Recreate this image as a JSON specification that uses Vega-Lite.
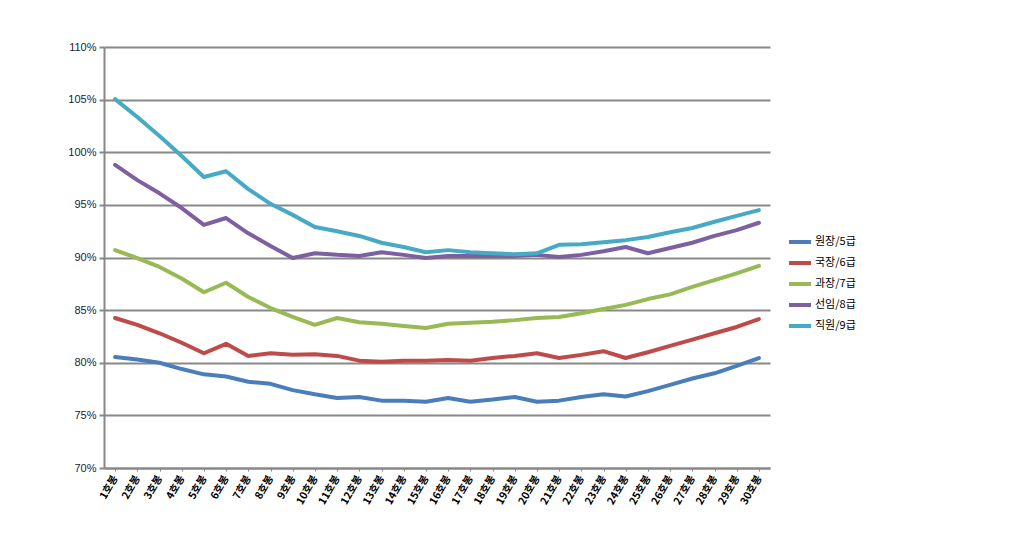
{
  "$schema": "https://vega.github.io/schema/vega-lite/v6.json",
  "width": 666,
  "height": 421,
  "autosize": {"type": "none"},
  "padding": {"left": 104, "top": 47, "right": 240, "bottom": 73},
  "background": "white",
  "config": {
    "view": {"stroke": null},
    "font": "Liberation Sans"
  },
  "data": {
    "values": [
      {"step": "1호봉", "o": 1, "g": "원장/5급", "v": 80.55},
      {"step": "2호봉", "o": 2, "g": "원장/5급", "v": 80.3},
      {"step": "3호봉", "o": 3, "g": "원장/5급", "v": 80.0},
      {"step": "4호봉", "o": 4, "g": "원장/5급", "v": 79.4},
      {"step": "5호봉", "o": 5, "g": "원장/5급", "v": 78.9},
      {"step": "6호봉", "o": 6, "g": "원장/5급", "v": 78.7},
      {"step": "7호봉", "o": 7, "g": "원장/5급", "v": 78.2},
      {"step": "8호봉", "o": 8, "g": "원장/5급", "v": 78.0},
      {"step": "9호봉", "o": 9, "g": "원장/5급", "v": 77.4},
      {"step": "10호봉", "o": 10, "g": "원장/5급", "v": 77.0},
      {"step": "11호봉", "o": 11, "g": "원장/5급", "v": 76.65},
      {"step": "12호봉", "o": 12, "g": "원장/5급", "v": 76.75},
      {"step": "13호봉", "o": 13, "g": "원장/5급", "v": 76.4},
      {"step": "14호봉", "o": 14, "g": "원장/5급", "v": 76.4},
      {"step": "15호봉", "o": 15, "g": "원장/5급", "v": 76.3},
      {"step": "16호봉", "o": 16, "g": "원장/5급", "v": 76.65},
      {"step": "17호봉", "o": 17, "g": "원장/5급", "v": 76.3},
      {"step": "18호봉", "o": 18, "g": "원장/5급", "v": 76.5},
      {"step": "19호봉", "o": 19, "g": "원장/5급", "v": 76.75},
      {"step": "20호봉", "o": 20, "g": "원장/5급", "v": 76.3},
      {"step": "21호봉", "o": 21, "g": "원장/5급", "v": 76.4},
      {"step": "22호봉", "o": 22, "g": "원장/5급", "v": 76.75},
      {"step": "23호봉", "o": 23, "g": "원장/5급", "v": 77.0},
      {"step": "24호봉", "o": 24, "g": "원장/5급", "v": 76.8},
      {"step": "25호봉", "o": 25, "g": "원장/5급", "v": 77.3},
      {"step": "26호봉", "o": 26, "g": "원장/5급", "v": 77.9},
      {"step": "27호봉", "o": 27, "g": "원장/5급", "v": 78.5},
      {"step": "28호봉", "o": 28, "g": "원장/5급", "v": 79.0},
      {"step": "29호봉", "o": 29, "g": "원장/5급", "v": 79.7},
      {"step": "30호봉", "o": 30, "g": "원장/5급", "v": 80.45},

      {"step": "1호봉", "o": 1, "g": "국장/6급", "v": 84.25},
      {"step": "2호봉", "o": 2, "g": "국장/6급", "v": 83.6},
      {"step": "3호봉", "o": 3, "g": "국장/6급", "v": 82.8},
      {"step": "4호봉", "o": 4, "g": "국장/6급", "v": 81.9},
      {"step": "5호봉", "o": 5, "g": "국장/6급", "v": 80.9},
      {"step": "6호봉", "o": 6, "g": "국장/6급", "v": 81.8},
      {"step": "7호봉", "o": 7, "g": "국장/6급", "v": 80.65},
      {"step": "8호봉", "o": 8, "g": "국장/6급", "v": 80.9},
      {"step": "9호봉", "o": 9, "g": "국장/6급", "v": 80.75},
      {"step": "10호봉", "o": 10, "g": "국장/6급", "v": 80.8},
      {"step": "11호봉", "o": 11, "g": "국장/6급", "v": 80.65},
      {"step": "12호봉", "o": 12, "g": "국장/6급", "v": 80.2},
      {"step": "13호봉", "o": 13, "g": "국장/6급", "v": 80.1},
      {"step": "14호봉", "o": 14, "g": "국장/6급", "v": 80.2},
      {"step": "15호봉", "o": 15, "g": "국장/6급", "v": 80.2},
      {"step": "16호봉", "o": 16, "g": "국장/6급", "v": 80.25},
      {"step": "17호봉", "o": 17, "g": "국장/6급", "v": 80.2},
      {"step": "18호봉", "o": 18, "g": "국장/6급", "v": 80.45},
      {"step": "19호봉", "o": 19, "g": "국장/6급", "v": 80.65},
      {"step": "20호봉", "o": 20, "g": "국장/6급", "v": 80.9},
      {"step": "21호봉", "o": 21, "g": "국장/6급", "v": 80.45},
      {"step": "22호봉", "o": 22, "g": "국장/6급", "v": 80.75},
      {"step": "23호봉", "o": 23, "g": "국장/6급", "v": 81.1},
      {"step": "24호봉", "o": 24, "g": "국장/6급", "v": 80.45},
      {"step": "25호봉", "o": 25, "g": "국장/6급", "v": 81.0},
      {"step": "26호봉", "o": 26, "g": "국장/6급", "v": 81.6},
      {"step": "27호봉", "o": 27, "g": "국장/6급", "v": 82.2},
      {"step": "28호봉", "o": 28, "g": "국장/6급", "v": 82.8},
      {"step": "29호봉", "o": 29, "g": "국장/6급", "v": 83.4},
      {"step": "30호봉", "o": 30, "g": "국장/6급", "v": 84.15},

      {"step": "1호봉", "o": 1, "g": "과장/7급", "v": 90.7},
      {"step": "2호봉", "o": 2, "g": "과장/7급", "v": 89.95},
      {"step": "3호봉", "o": 3, "g": "과장/7급", "v": 89.1},
      {"step": "4호봉", "o": 4, "g": "과장/7급", "v": 88.0},
      {"step": "5호봉", "o": 5, "g": "과장/7급", "v": 86.7},
      {"step": "6호봉", "o": 6, "g": "과장/7급", "v": 87.6},
      {"step": "7호봉", "o": 7, "g": "과장/7급", "v": 86.25},
      {"step": "8호봉", "o": 8, "g": "과장/7급", "v": 85.2},
      {"step": "9호봉", "o": 9, "g": "과장/7급", "v": 84.35},
      {"step": "10호봉", "o": 10, "g": "과장/7급", "v": 83.6},
      {"step": "11호봉", "o": 11, "g": "과장/7급", "v": 84.25},
      {"step": "12호봉", "o": 12, "g": "과장/7급", "v": 83.85},
      {"step": "13호봉", "o": 13, "g": "과장/7급", "v": 83.7},
      {"step": "14호봉", "o": 14, "g": "과장/7급", "v": 83.5},
      {"step": "15호봉", "o": 15, "g": "과장/7급", "v": 83.3},
      {"step": "16호봉", "o": 16, "g": "과장/7급", "v": 83.7},
      {"step": "17호봉", "o": 17, "g": "과장/7급", "v": 83.8},
      {"step": "18호봉", "o": 18, "g": "과장/7급", "v": 83.9},
      {"step": "19호봉", "o": 19, "g": "과장/7급", "v": 84.05},
      {"step": "20호봉", "o": 20, "g": "과장/7급", "v": 84.25},
      {"step": "21호봉", "o": 21, "g": "과장/7급", "v": 84.35},
      {"step": "22호봉", "o": 22, "g": "과장/7급", "v": 84.7},
      {"step": "23호봉", "o": 23, "g": "과장/7급", "v": 85.1},
      {"step": "24호봉", "o": 24, "g": "과장/7급", "v": 85.5},
      {"step": "25호봉", "o": 25, "g": "과장/7급", "v": 86.05},
      {"step": "26호봉", "o": 26, "g": "과장/7급", "v": 86.5},
      {"step": "27호봉", "o": 27, "g": "과장/7급", "v": 87.2},
      {"step": "28호봉", "o": 28, "g": "과장/7급", "v": 87.85},
      {"step": "29호봉", "o": 29, "g": "과장/7급", "v": 88.5},
      {"step": "30호봉", "o": 30, "g": "과장/7급", "v": 89.2},

      {"step": "1호봉", "o": 1, "g": "선임/8급", "v": 98.8},
      {"step": "2호봉", "o": 2, "g": "선임/8급", "v": 97.35},
      {"step": "3호봉", "o": 3, "g": "선임/8급", "v": 96.1},
      {"step": "4호봉", "o": 4, "g": "선임/8급", "v": 94.7},
      {"step": "5호봉", "o": 5, "g": "선임/8급", "v": 93.1},
      {"step": "6호봉", "o": 6, "g": "선임/8급", "v": 93.75},
      {"step": "7호봉", "o": 7, "g": "선임/8급", "v": 92.3},
      {"step": "8호봉", "o": 8, "g": "선임/8급", "v": 91.1},
      {"step": "9호봉", "o": 9, "g": "선임/8급", "v": 89.95},
      {"step": "10호봉", "o": 10, "g": "선임/8급", "v": 90.4},
      {"step": "11호봉", "o": 11, "g": "선임/8급", "v": 90.25},
      {"step": "12호봉", "o": 12, "g": "선임/8급", "v": 90.15},
      {"step": "13호봉", "o": 13, "g": "선임/8급", "v": 90.5},
      {"step": "14호봉", "o": 14, "g": "선임/8급", "v": 90.25},
      {"step": "15호봉", "o": 15, "g": "선임/8급", "v": 89.95},
      {"step": "16호봉", "o": 16, "g": "선임/8급", "v": 90.15},
      {"step": "17호봉", "o": 17, "g": "선임/8급", "v": 90.15},
      {"step": "18호봉", "o": 18, "g": "선임/8급", "v": 90.15},
      {"step": "19호봉", "o": 19, "g": "선임/8급", "v": 90.15},
      {"step": "20호봉", "o": 20, "g": "선임/8급", "v": 90.25},
      {"step": "21호봉", "o": 21, "g": "선임/8급", "v": 90.05},
      {"step": "22호봉", "o": 22, "g": "선임/8급", "v": 90.25},
      {"step": "23호봉", "o": 23, "g": "선임/8급", "v": 90.6},
      {"step": "24호봉", "o": 24, "g": "선임/8급", "v": 91.0},
      {"step": "25호봉", "o": 25, "g": "선임/8급", "v": 90.4},
      {"step": "26호봉", "o": 26, "g": "선임/8급", "v": 90.9},
      {"step": "27호봉", "o": 27, "g": "선임/8급", "v": 91.4},
      {"step": "28호봉", "o": 28, "g": "선임/8급", "v": 92.05},
      {"step": "29호봉", "o": 29, "g": "선임/8급", "v": 92.6},
      {"step": "30호봉", "o": 30, "g": "선임/8급", "v": 93.3},

      {"step": "1호봉", "o": 1, "g": "직원/9급", "v": 105.05},
      {"step": "2호봉", "o": 2, "g": "직원/9급", "v": 103.35},
      {"step": "3호봉", "o": 3, "g": "직원/9급", "v": 101.55},
      {"step": "4호봉", "o": 4, "g": "직원/9급", "v": 99.65},
      {"step": "5호봉", "o": 5, "g": "직원/9급", "v": 97.65},
      {"step": "6호봉", "o": 6, "g": "직원/9급", "v": 98.2},
      {"step": "7호봉", "o": 7, "g": "직원/9급", "v": 96.5},
      {"step": "8호봉", "o": 8, "g": "직원/9급", "v": 95.1},
      {"step": "9호봉", "o": 9, "g": "직원/9급", "v": 94.05},
      {"step": "10호봉", "o": 10, "g": "직원/9급", "v": 92.9},
      {"step": "11호봉", "o": 11, "g": "직원/9급", "v": 92.5},
      {"step": "12호봉", "o": 12, "g": "직원/9급", "v": 92.05},
      {"step": "13호봉", "o": 13, "g": "직원/9급", "v": 91.4},
      {"step": "14호봉", "o": 14, "g": "직원/9급", "v": 91.0},
      {"step": "15호봉", "o": 15, "g": "직원/9급", "v": 90.5},
      {"step": "16호봉", "o": 16, "g": "직원/9급", "v": 90.7},
      {"step": "17호봉", "o": 17, "g": "직원/9급", "v": 90.5},
      {"step": "18호봉", "o": 18, "g": "직원/9급", "v": 90.4},
      {"step": "19호봉", "o": 19, "g": "직원/9급", "v": 90.3},
      {"step": "20호봉", "o": 20, "g": "직원/9급", "v": 90.4},
      {"step": "21호봉", "o": 21, "g": "직원/9급", "v": 91.2},
      {"step": "22호봉", "o": 22, "g": "직원/9급", "v": 91.25},
      {"step": "23호봉", "o": 23, "g": "직원/9급", "v": 91.45},
      {"step": "24호봉", "o": 24, "g": "직원/9급", "v": 91.65},
      {"step": "25호봉", "o": 25, "g": "직원/9급", "v": 91.95},
      {"step": "26호봉", "o": 26, "g": "직원/9급", "v": 92.4},
      {"step": "27호봉", "o": 27, "g": "직원/9급", "v": 92.8},
      {"step": "28호봉", "o": 28, "g": "직원/9급", "v": 93.4},
      {"step": "29호봉", "o": 29, "g": "직원/9급", "v": 93.95},
      {"step": "30호봉", "o": 30, "g": "직원/9급", "v": 94.5}
    ]
  },
  "mark": {"type": "line", "strokeWidth": 4, "strokeJoin": "round", "strokeCap": "round"},
  "encoding": {
    "x": {
      "field": "step",
      "type": "ordinal",
      "sort": {"field": "o"},
      "scale": {"type": "point", "padding": 0.5},
      "axis": {
        "title": null,
        "labelAngle": -60,
        "labelAlign": "right",
        "labelBaseline": "middle",
        "labelFont": "Noto Sans CJK KR",
        "labelFontSize": 10.5,
        "labelFontWeight": "bold",
        "labelColor": "#000000",
        "labelPadding": 5,
        "domainColor": "#888888",
        "domainWidth": 2,
        "tickColor": "#888888",
        "tickWidth": 1,
        "tickSize": 3,
        "grid": false
      }
    },
    "y": {
      "field": "v",
      "type": "quantitative",
      "scale": {"domain": [70, 110], "nice": false, "zero": false},
      "axis": {
        "title": null,
        "values": [70, 75, 80, 85, 90, 95, 100, 105, 110],
        "labelExpr": "datum.value + '%'",
        "labelFontSize": 11,
        "labelColor": "#1a1a3a",
        "labelPadding": 3,
        "domainColor": "#888888",
        "domainWidth": 2,
        "tickColor": "#888888",
        "tickWidth": 2,
        "tickSize": 5,
        "grid": true,
        "gridColor": "#888888",
        "gridWidth": 2
      }
    },
    "color": {
      "field": "g",
      "type": "nominal",
      "sort": ["원장/5급", "국장/6급", "과장/7급", "선임/8급", "직원/9급"],
      "scale": {
        "domain": ["원장/5급", "국장/6급", "과장/7급", "선임/8급", "직원/9급"],
        "range": ["#4a7ebb", "#be4b48", "#98b954", "#7d60a0", "#46aac5"]
      },
      "legend": {
        "title": null,
        "orient": "none",
        "legendX": 683,
        "legendY": 182,
        "symbolType": "stroke",
        "symbolSize": 484,
        "symbolStrokeWidth": 4,
        "labelFont": "Noto Sans CJK KR",
        "labelFontSize": 11,
        "labelColor": "#000000",
        "labelOffset": 2,
        "rowPadding": 0
      }
    }
  }
}
